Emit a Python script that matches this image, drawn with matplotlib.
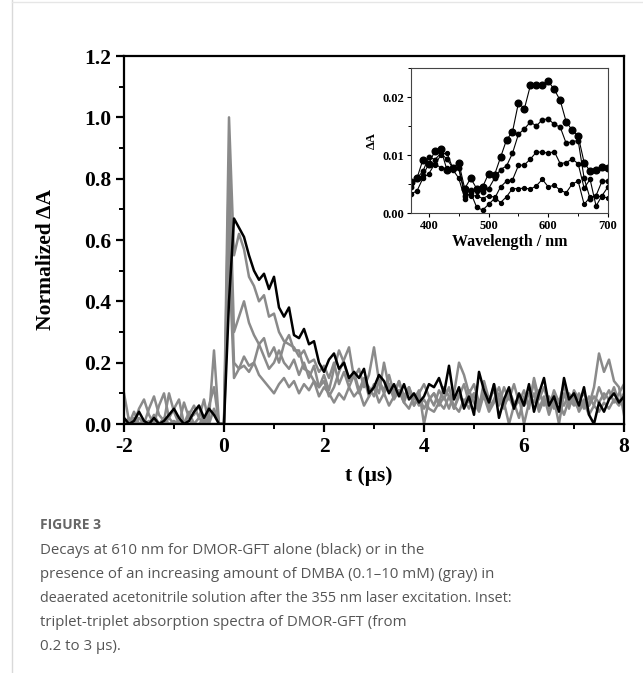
import numpy as np
import matplotlib
matplotlib.use("Agg")
import matplotlib.pyplot as plt
from matplotlib.ticker import MultipleLocator, FormatStrFormatter

# ---------------- data: decays at 610 nm ----------------
t_us = np.round(np.arange(-2.0, 8.0001, 0.1), 2)  # sampling grid (µs)

decay_black = [
    0.02, 0.00, 0.01, 0.04, 0.01, 0.00, 0.02, 0.00, 0.01, 0.03,
    0.05, 0.02, 0.00, 0.01, 0.04, 0.06, 0.02, 0.05, 0.03, 0.00,
    0.00, 0.40, 0.67, 0.64, 0.61, 0.55, 0.50, 0.47, 0.49, 0.44,
    0.48, 0.38, 0.35, 0.38, 0.29, 0.28, 0.31, 0.26, 0.27, 0.20,
    0.17, 0.21, 0.23, 0.18, 0.20, 0.15, 0.17, 0.15, 0.18, 0.10,
    0.12, 0.16, 0.14, 0.10, 0.13, 0.09, 0.13, 0.08, 0.10, 0.07,
    0.09, 0.13, 0.12, 0.15, 0.10, 0.19, 0.08, 0.12, 0.05, 0.09,
    0.03, 0.17, 0.11, 0.07, 0.13, 0.02, 0.08, 0.12, 0.05, 0.10,
    0.06, 0.13, 0.04, 0.10, 0.15, 0.06, 0.09, 0.04, 0.15, 0.08,
    0.10, 0.06, 0.12, 0.03, 0.00, 0.07, 0.04, 0.08, 0.10, 0.07,
    0.09]

decay_gray1 = [
    0.10, 0.01, 0.00, 0.02, 0.00, 0.05, 0.09, 0.03, 0.01, 0.10,
    0.04, 0.00, 0.07, 0.02, 0.03, 0.06, 0.00, 0.02, 0.24, 0.00,
    0.00, 1.00, 0.55, 0.62, 0.57, 0.48, 0.45, 0.40, 0.42, 0.35,
    0.36, 0.30, 0.27, 0.26, 0.25, 0.22, 0.24, 0.20, 0.21, 0.17,
    0.19, 0.15, 0.20, 0.13, 0.17, 0.12, 0.16, 0.10, 0.14, 0.12,
    0.09, 0.14, 0.10, 0.13, 0.08, 0.11, 0.07, 0.12, 0.06, 0.10,
    0.13, 0.09, 0.06, 0.11, 0.08, 0.12, 0.05, 0.09, 0.13, 0.07,
    0.10, 0.05, 0.14, 0.08, 0.11, 0.06, 0.12, 0.08, 0.13, 0.07,
    0.11, 0.05, 0.15, 0.08, 0.12, 0.06, 0.10, 0.07, 0.13, 0.05,
    0.11, 0.08, 0.10, 0.06, 0.12, 0.23, 0.17, 0.21, 0.14, 0.12,
    0.03]

decay_gray2 = [
    0.00, 0.02, 0.00, 0.05, 0.08, 0.03, 0.00, 0.06, 0.10, 0.02,
    0.05, 0.08, 0.00, 0.03, 0.06, 0.02, 0.08, 0.00, 0.05, 0.00,
    0.00, 0.85, 0.30, 0.35, 0.40, 0.33, 0.29, 0.26, 0.28, 0.22,
    0.25, 0.20, 0.26, 0.29, 0.24, 0.24, 0.18, 0.17, 0.14, 0.12,
    0.16, 0.11, 0.18, 0.24, 0.20, 0.14, 0.17, 0.11, 0.15, 0.09,
    0.13, 0.10, 0.20, 0.12, 0.09, 0.14, 0.08, 0.11, 0.06, 0.09,
    0.05, 0.08, 0.10, 0.07, 0.12, 0.09, 0.05, 0.10, 0.06, 0.11,
    0.07, 0.04, 0.10, 0.06, 0.13, 0.08, 0.05, 0.11, 0.07, 0.02,
    0.09, 0.06, 0.10, 0.04, 0.08, 0.05, 0.11, 0.07, 0.03, 0.08,
    0.06, 0.10, 0.05, 0.09, 0.06, 0.12, 0.08, 0.11, 0.07, 0.10,
    0.13]

decay_gray3 = [
    0.00, 0.00, 0.04, 0.00, 0.01, 0.00, 0.03, 0.00, 0.00, 0.02,
    0.00, 0.01, 0.00, 0.04, 0.00, 0.02, 0.00, 0.06, 0.12, 0.00,
    0.00, 0.70, 0.20, 0.18, 0.22, 0.19, 0.20, 0.26, 0.22, 0.18,
    0.20, 0.24, 0.20, 0.18, 0.21, 0.16, 0.20, 0.15, 0.19, 0.12,
    0.14, 0.09, 0.12, 0.17, 0.21, 0.25, 0.15, 0.18, 0.12, 0.16,
    0.25, 0.14, 0.11, 0.16, 0.10, 0.14, 0.09, 0.12, 0.08, 0.11,
    0.00, 0.08, 0.10, 0.06, 0.09, 0.05, 0.10, 0.20, 0.16, 0.10,
    0.13, 0.07, 0.10, 0.05, 0.08, 0.12, 0.07, 0.00, 0.06, 0.09,
    0.00, 0.07, 0.14, 0.05, 0.09, 0.03, 0.08, 0.00, 0.10, 0.06,
    0.09, 0.04, 0.07, 0.03, 0.06, 0.04, 0.07, 0.05, 0.08, 0.06,
    0.09]

decay_gray4 = [
    0.00, 0.00, 0.02, 0.00, 0.00, 0.01, 0.00, 0.00, 0.02, 0.00,
    0.01, 0.00, 0.00, 0.01, 0.00, 0.00, 0.02, 0.00, 0.00, 0.00,
    0.00, 0.55, 0.15, 0.18, 0.19, 0.17, 0.20, 0.16, 0.14, 0.12,
    0.10, 0.13, 0.15, 0.12, 0.14, 0.10, 0.13, 0.11, 0.14, 0.09,
    0.12, 0.10, 0.07, 0.10, 0.08, 0.12, 0.09, 0.11, 0.06, 0.09,
    0.12, 0.07, 0.10, 0.06, 0.09, 0.11, 0.07, 0.05, 0.09, 0.06,
    0.08, 0.05, 0.04, 0.07, 0.05, 0.09, 0.06, 0.04, 0.08, 0.05,
    0.10, 0.06, 0.09, 0.04, 0.07, 0.10, 0.06, 0.09, 0.05, 0.08,
    0.06, 0.10, 0.07, 0.11, 0.06, 0.09, 0.05, 0.08, 0.06, 0.10,
    0.07, 0.05, 0.08, 0.06, 0.09, 0.07, 0.10, 0.08, 0.12, 0.07,
    0.10]

# ---------------- data: inset spectra ----------------
wavelength_nm = [370, 380, 390, 400, 410, 420, 430, 440, 450, 460, 470, 480,
                 490, 500, 510, 520, 530, 540, 550, 560, 570, 580, 590, 600,
                 610, 620, 630, 640, 650, 660, 670, 680, 690, 700]

spec_1 = [0.0053, 0.0060, 0.0092, 0.0085, 0.0107, 0.0110, 0.0075, 0.0077,
          0.0087, 0.0042, 0.0060, 0.0042, 0.0045, 0.0068, 0.0066, 0.0096,
          0.0126, 0.0140, 0.0190, 0.0180, 0.0220, 0.0220, 0.0221, 0.0227,
          0.0213, 0.0194, 0.0157, 0.0143, 0.0133, 0.0087, 0.0072, 0.0074,
          0.0080, 0.0077]
spec_2 = [0.0045, 0.0060, 0.0072, 0.0097, 0.0092, 0.0103, 0.0093, 0.0078,
          0.0077, 0.0030, 0.0040, 0.0038, 0.0037, 0.0042, 0.0060, 0.0075,
          0.0081, 0.0103, 0.0136, 0.0145, 0.0157, 0.0150, 0.0161, 0.0162,
          0.0153, 0.0148, 0.0120, 0.0123, 0.0125, 0.0060, 0.0025, 0.0030,
          0.0055, 0.0055]
spec_3 = [0.0033, 0.0038, 0.0060, 0.0068, 0.0085, 0.0078, 0.0077, 0.0075,
          0.0060, 0.0025, 0.0035, 0.0010, 0.0005, 0.0015, 0.0025, 0.0045,
          0.0055, 0.0057, 0.0082, 0.0083, 0.0093, 0.0105, 0.0105, 0.0103,
          0.0106, 0.0085, 0.0087, 0.0093, 0.0085, 0.0043, 0.0058, 0.0012,
          0.0030, 0.0045]
spec_4 = [0.0050, 0.0060, 0.0065, 0.0085, 0.0083, 0.0100, 0.0104, 0.0077,
          0.0078, 0.0035, 0.0029, 0.0030, 0.0025, 0.0030, 0.0027, 0.0018,
          0.0028, 0.0042, 0.0042, 0.0043, 0.0041, 0.0047, 0.0058, 0.0045,
          0.0048, 0.0039, 0.0035, 0.0050, 0.0055, 0.0015, 0.0027, 0.0029,
          0.0028, 0.0026]

x_tick_labels = ["-2", "0", "2", "4", "6", "8"]

caption_title = "FIGURE 3"
caption_lines = [
    "Decays at 610 nm for DMOR-GFT alone (black) or in the",
    "presence of an increasing amount of DMBA (0.1\u201310 mM) (gray) in",
    "deaerated acetonitrile solution after the 355 nm laser excitation. Inset:",
    "triplet-triplet absorption spectra of DMOR-GFT (from",
    "0.2 to 3 \u03bcs).",
]

# ---------------- figure ----------------
W, H = 643, 673
fig = plt.figure(figsize=(W / 100, H / 100), dpi=100)
fig.patch.set_facecolor("white")

def fx(px):
    return px / W

def fy(py):
    return 1 - py / H

serif = "Liberation Serif"
gray = "#8a8a8a"

# page decorations
fig.add_artist(plt.Line2D([fx(12), fx(12)], [0, 1], color="#d9d9d9", lw=1.0))
fig.add_artist(plt.Line2D([fx(12), 1], [fy(1.5), fy(1.5)], color="#e6e6e6", lw=1.0))

# main axes
ax = fig.add_axes([fx(124), fy(424), fx(624) - fx(124), fy(56) - fy(424)])
ax.plot(t_us, decay_black, color="black", lw=1.8, zorder=3)
for series in (decay_gray1, decay_gray2, decay_gray3, decay_gray4):
    ax.plot(t_us, series, color=gray, lw=1.8, zorder=2)
ax.set_xlim(-2, 8)
ax.set_ylim(0, 1.2)
ax.xaxis.set_major_locator(MultipleLocator(2))
ax.xaxis.set_minor_locator(MultipleLocator(1))
ax.yaxis.set_major_locator(MultipleLocator(0.2))
ax.yaxis.set_minor_locator(MultipleLocator(0.1))
ax.yaxis.set_major_formatter(FormatStrFormatter("%.1f"))
for s in ax.spines.values():
    s.set_linewidth(1.6)
ax.tick_params(which="major", direction="out", length=6, width=1.6,
               labelsize=15.5, pad=3)
ax.tick_params(which="minor", direction="out", length=3.5, width=1.4)
ax.tick_params(top=False, right=False, which="both")
for lab in ax.get_yticklabels():
    lab.set_fontfamily(serif)
    lab.set_fontweight("bold")
ax.set_xticks([-2, 0, 2, 4, 6, 8])
ax.set_xticklabels(x_tick_labels, fontfamily=serif, fontweight="bold",
                   fontsize=15.5)

fig.text(fx(46), fy(260), "Normalized \u0394A", rotation=90, ha="center",
         va="center", fontfamily=serif, fontweight="bold", fontsize=15.5)
fig.text(fx(369), fy(476), "t (\u03bcs)", ha="center", va="center",
         fontfamily=serif, fontweight="bold", fontsize=15.5)

# inset
ai = fig.add_axes([fx(411), fy(213), fx(608) - fx(411), fy(68) - fy(213)])
ai.plot(wavelength_nm, spec_1, color="black", lw=0.8, marker="o", ms=4.8)
ai.plot(wavelength_nm, spec_2, color="black", lw=0.8, marker="o", ms=3.2)
ai.plot(wavelength_nm, spec_3, color="black", lw=0.8, marker="o", ms=3.0)
ai.plot(wavelength_nm, spec_4, color="black", lw=0.8, marker="o", ms=2.8)
ai.set_xlim(370, 700)
ai.set_ylim(0, 0.025)
ai.xaxis.set_major_locator(MultipleLocator(100))
ai.xaxis.set_minor_locator(MultipleLocator(50))
ai.yaxis.set_major_locator(MultipleLocator(0.01))
ai.yaxis.set_minor_locator(MultipleLocator(0.005))
ai.yaxis.set_major_formatter(FormatStrFormatter("%.2f"))
for s in ai.spines.values():
    s.set_linewidth(0.8)
    s.set_color("#444444")
ai.tick_params(which="major", direction="out", length=3, width=0.8,
               labelsize=9, pad=2)
ai.tick_params(which="minor", direction="out", length=2, width=0.7)
ai.tick_params(top=False, right=False, which="both")
for lab in ai.get_xticklabels() + ai.get_yticklabels():
    lab.set_fontfamily(serif)
    lab.set_fontweight("bold")
fig.text(fx(510), fy(242), "Wavelength / nm", ha="center", va="center",
         fontfamily=serif, fontweight="bold", fontsize=11.5)
fig.text(fx(372), fy(141), "\u0394A", rotation=90, ha="center", va="center",
         fontfamily=serif, fontweight="bold", fontsize=9)

# caption
fig.text(fx(40), fy(525), caption_title, ha="left", va="center",
         fontfamily="Open Sans", fontweight="bold", fontsize=10, color="#666666")
caption_sizes = [10.8, 10.8, 10.4, 10.8, 10.8]
for i, line in enumerate(caption_lines):
    fig.text(fx(40), fy(551 + 24 * i), line, ha="left", va="center",
             fontfamily="Open Sans", fontsize=caption_sizes[i], color="#555555")

fig.savefig("out.png", dpi=100, facecolor="white")
